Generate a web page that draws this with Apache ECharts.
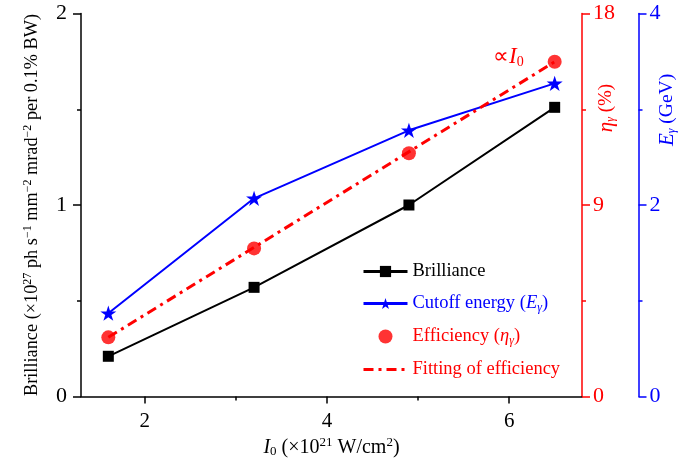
<!DOCTYPE html>
<html>
<head>
<meta charset="utf-8">
<script src="https://cdn.jsdelivr.net/npm/echarts@6/dist/echarts.min.js"></script>
<style>
  html, body { margin: 0; padding: 0; background: #fff; }
  #chart { width: 695px; height: 460px; }
</style>
</head>
<body>
<div id="chart"></div>
<script>
// values
var intensity = [1.6, 3.2, 4.9, 6.5];          // I0 (x10^21 W/cm^2)
var brilliance = [0.21, 0.57, 1.0, 1.51];      // x10^27
var cutoffEnergy = [0.87, 2.07, 2.78, 3.27];   // GeV
var efficiency = [2.78, 6.96, 11.43, 15.73];   // %
var fitIntensity = [1.6, 6.5];
var fitEfficiency = [2.78, 15.73];
var xMajorTicks = [2, 4, 6];
var xMinorTicks = [3, 5];

var FONT = 'Liberation Serif';
var BLACK = '#000000', BLUE = '#0000ff', RED = '#ff0000';

function zip(xs, ys) {
    return xs.map(function (x, i) { return [x, ys[i]]; });
}

// five point star as a symbol path
var starPath = 'path://M50 0 L61.23 34.55 L97.55 34.55 L68.17 55.9 L79.39 90.45 L50 69.1 L20.61 90.45 L31.83 55.9 L2.45 34.55 L38.77 34.55 Z';

var legendLabels = {
    'Brilliance': '{k|Brilliance}',
    'Cutoff energy': '{b|Cutoff energy (}{bi|E}{bs|γ}{b|)}',
    'Efficiency': '{r|Efficiency (}{ri|η}{rs|γ}{r|)}',
    'Fitting of efficiency': '{r|Fitting of efficiency}'
};

var chart = echarts.init(document.getElementById('chart'));

var option = {
    animation: false,
    backgroundColor: '#fff',
    textStyle: { fontFamily: FONT },
    grid: { left: 81, right: 113, top: 13.5, bottom: 63.5, outerBoundsMode: 'none', containLabel: false },
    legend: {
        orient: 'vertical',
        left: 357,
        top: 257,
        itemWidth: 44,
        itemHeight: 14,
        itemGap: 13,
        lineStyle: { width: 3 },
        data: [
            { name: 'Brilliance' },
            { name: 'Cutoff energy' },
            { name: 'Efficiency' },
            { name: 'Fitting of efficiency', itemStyle: { opacity: 0 } }
        ],
        formatter: function (name) { return legendLabels[name]; },
        textStyle: {
            fontFamily: FONT,
            fontSize: 18,
            rich: {
                k: { color: BLACK, fontSize: 18.5, fontFamily: FONT, lineHeight: 21 },
                b: { color: BLUE, fontSize: 18.5, fontFamily: FONT, lineHeight: 21 },
                bi: { color: BLUE, fontSize: 18.5, fontFamily: FONT, fontStyle: 'italic', lineHeight: 21 },
                bs: { color: BLUE, fontSize: 12, fontFamily: FONT, fontStyle: 'italic', lineHeight: 10, verticalAlign: 'bottom' },
                r: { color: RED, fontSize: 18.5, fontFamily: FONT, lineHeight: 21 },
                ri: { color: RED, fontSize: 18.5, fontFamily: FONT, fontStyle: 'italic', lineHeight: 21 },
                rs: { color: RED, fontSize: 12, fontFamily: FONT, fontStyle: 'italic', lineHeight: 10, verticalAlign: 'bottom' }
            }
        }
    },
    xAxis: [
        {
            type: 'value',
            min: 1.3,
            max: 6.8,
            splitLine: { show: false },
            axisLine: { lineStyle: { color: BLACK, width: 1.5 } },
            axisTick: { customValues: xMajorTicks, length: 7, lineStyle: { color: BLACK, width: 1.5 } },
            axisLabel: { customValues: xMajorTicks, color: BLACK, fontSize: 21, fontFamily: FONT, margin: 14 },
            name: '{i|I}{s|0}{n| (×10}{p|21}{n| W/cm}{p|2}{n|)}',
            nameLocation: 'middle',
            nameGap: 40,
            nameTextStyle: {
                rich: {
                    i: { fontSize: 20, fontFamily: FONT, fontStyle: 'italic', color: BLACK, lineHeight: 22 },
                    n: { fontSize: 20, fontFamily: FONT, color: BLACK, lineHeight: 22 },
                    s: { fontSize: 13, fontFamily: FONT, color: BLACK, lineHeight: 10, verticalAlign: 'bottom' },
                    p: { fontSize: 13, fontFamily: FONT, color: BLACK, lineHeight: 10, verticalAlign: 'top' }
                }
            }
        },
        {
            // short unlabeled ticks between the labeled ones
            type: 'value',
            position: 'bottom',
            min: 1.3,
            max: 6.8,
            splitLine: { show: false },
            axisLine: { show: false },
            axisTick: { customValues: xMinorTicks, length: 4, lineStyle: { color: BLACK, width: 1.5 } },
            axisLabel: { show: false }
        }
    ],
    yAxis: [
        {
            type: 'value',
            position: 'left',
            min: 0,
            max: 2,
            interval: 1,
            splitLine: { show: false },
            axisLine: { show: true, lineStyle: { color: BLACK, width: 1.5 } },
            axisTick: { show: true, length: 8, lineStyle: { color: BLACK, width: 1.5 } },
            minorTick: { show: true, splitNumber: 2, length: 4, lineStyle: { color: BLACK, width: 1.5 } },
            axisLabel: { color: BLACK, fontSize: 22, fontFamily: FONT, margin: 14 },
            name: '{n|Brilliance (×10}{p|27}{n| ph s}{p|−1}{n| mm}{p|−2}{n| mrad}{p|−2}{n| per 0.1% BW)}',
            nameLocation: 'middle',
            nameRotate: 90,
            nameGap: 38,
            nameTextStyle: {
                rich: {
                    n: { fontSize: 18.3, fontFamily: FONT, color: BLACK, lineHeight: 21 },
                    p: { fontSize: 12, fontFamily: FONT, color: BLACK, lineHeight: 10, verticalAlign: 'top' }
                }
            }
        },
        {
            type: 'value',
            position: 'right',
            min: 0,
            max: 18,
            interval: 9,
            splitLine: { show: false },
            axisLine: { show: true, lineStyle: { color: RED, width: 1.5 } },
            axisTick: { show: true, length: 8, lineStyle: { color: RED, width: 1.5 } },
            minorTick: { show: true, splitNumber: 2, length: 4, lineStyle: { color: RED, width: 1.5 } },
            axisLabel: { color: RED, fontSize: 22, fontFamily: FONT, margin: 11 }
        },
        {
            type: 'value',
            position: 'right',
            offset: 56.5,
            min: 0,
            max: 4,
            interval: 2,
            splitLine: { show: false },
            axisLine: { show: true, lineStyle: { color: BLUE, width: 1.5 } },
            axisTick: { show: true, length: 8, lineStyle: { color: BLUE, width: 1.5 } },
            minorTick: { show: true, splitNumber: 2, length: 4, lineStyle: { color: BLUE, width: 1.5 } },
            axisLabel: { color: BLUE, fontSize: 22, fontFamily: FONT, margin: 11 }
        }
    ],
    graphic: [
        {
            type: 'text',
            x: 606, y: 108,
            rotation: Math.PI / 2,
            style: {
                text: '{i|η}{s|γ}{n| (%)}',
                align: 'center',
                verticalAlign: 'middle',
                rich: {
                    i: { fontSize: 21, fontFamily: FONT, fontStyle: 'italic', fill: RED, lineHeight: 22 },
                    s: { fontSize: 12, fontFamily: FONT, fontStyle: 'italic', fill: RED, lineHeight: 10, verticalAlign: 'bottom' },
                    n: { fontSize: 19, fontFamily: FONT, fill: RED, lineHeight: 22 }
                }
            }
        },
        {
            type: 'text',
            x: 667, y: 110,
            rotation: Math.PI / 2,
            style: {
                text: '{i|E}{s|γ}{n| (GeV)}',
                align: 'center',
                verticalAlign: 'middle',
                rich: {
                    i: { fontSize: 21, fontFamily: FONT, fontStyle: 'italic', fill: BLUE, lineHeight: 22 },
                    s: { fontSize: 12, fontFamily: FONT, fontStyle: 'italic', fill: BLUE, lineHeight: 10, verticalAlign: 'bottom' },
                    n: { fontSize: 19.5, fontFamily: FONT, fill: BLUE, lineHeight: 22 }
                }
            }
        },
        {
            type: 'text',
            x: 493, y: 57,
            style: {
                text: '{n|∝}{i|I}{s|0}',
                verticalAlign: 'middle',
                rich: {
                    n: { fontSize: 22, fontFamily: FONT, fill: RED, lineHeight: 24 },
                    i: { fontSize: 23, fontFamily: FONT, fontStyle: 'italic', fill: RED, lineHeight: 24 },
                    s: { fontSize: 14, fontFamily: FONT, fill: RED, lineHeight: 10, verticalAlign: 'bottom' }
                }
            }
        }
    ],
    series: [
        {
            name: 'Brilliance',
            type: 'line',
            xAxisIndex: 0,
            yAxisIndex: 0,
            data: zip(intensity, brilliance),
            symbol: 'rect',
            symbolSize: 11,
            color: BLACK,
            lineStyle: { color: BLACK, width: 2 },
            itemStyle: { color: BLACK },
            z: 3
        },
        {
            name: 'Cutoff energy',
            type: 'line',
            xAxisIndex: 0,
            yAxisIndex: 2,
            data: zip(intensity, cutoffEnergy),
            symbol: starPath,
            symbolKeepAspect: true,
            symbolSize: 16,
            color: BLUE,
            lineStyle: { color: BLUE, width: 2 },
            itemStyle: { color: BLUE },
            z: 3
        },
        {
            name: 'Efficiency',
            type: 'scatter',
            xAxisIndex: 0,
            yAxisIndex: 1,
            data: zip(intensity, efficiency),
            symbol: 'circle',
            symbolSize: 14,
            color: RED,
            itemStyle: { color: RED },
            z: 5
        },
        {
            name: 'Fitting of efficiency',
            type: 'line',
            xAxisIndex: 0,
            yAxisIndex: 1,
            data: zip(fitIntensity, fitEfficiency),
            symbol: 'none',
            color: RED,
            lineStyle: { color: RED, width: 3, type: [10, 5, 3, 5] },
            z: 4
        }
    ]
};

chart.setOption(option);
</script>
</body>
</html>
